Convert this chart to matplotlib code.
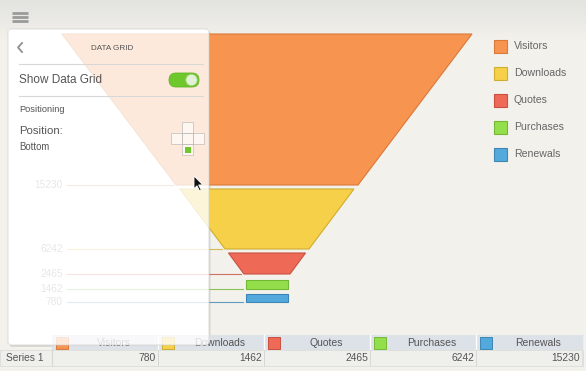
import numpy as np
import matplotlib.pyplot as plt
from matplotlib.patches import Rectangle, FancyBboxPatch, Polygon, Circle

plt.rcParams['font.family'] = ['Liberation Sans', 'DejaVu Sans']

categories = ['Visitors', 'Downloads', 'Quotes', 'Purchases', 'Renewals']
values = [780, 1462, 2465, 6242, 15230]
series_name = 'Series 1'
colors = ['#f7944f', '#f5d048', '#ee6a57', '#93df4b', '#53a9dc']
edges = ['#d9793a', '#cfae30', '#c9503f', '#73b935', '#3e86b3']

# funnel layout in pixels: top y, bottom y, top half width, bottom half width
cx = 267
seg_y = [(34, 185), (189, 249), (253, 274), (280, 289), (294, 302)]
seg_w = [(205, 91), (87, 42), (38.5, 23), (21, 21), (21, 21)]
tick_vals = sorted(values, reverse=True)

fig = plt.figure(figsize=(5.86, 3.71), dpi=100)
fig.patch.set_facecolor('#f2f1ec')
ax = fig.add_axes([0, 0, 1, 1])
ax.set_xlim(0, 586)
ax.set_ylim(371, 0)
ax.axis('off')

# soft grey band at the top
grad = np.linspace(0, 1, 60).reshape(-1, 1)
ax.imshow(grad, extent=[0, 586, 40, 0], cmap=plt.matplotlib.colors.LinearSegmentedColormap.from_list(
    'bg', ['#e3e3df', '#f2f1ec']), aspect='auto', zorder=0)

# hamburger
for yy in (13, 17, 21):
    ax.plot([12, 28], [yy, yy], color='#9a9a98', lw=2, solid_capstyle='butt', zorder=1)

# panel shadow + white base under the panel so the faded chart sits on white
ax.add_patch(FancyBboxPatch((9.5, 31), 201, 316, boxstyle='round,pad=0,rounding_size=3',
                            facecolor='#000000', alpha=0.1, edgecolor='none', zorder=0.4))
ax.add_patch(Rectangle((8, 29), 201, 316, facecolor='#ffffff', edgecolor='none', zorder=0.5))

# funnel
for i, cat in enumerate(categories):
    y0, y1 = seg_y[i]
    w0, w1 = seg_w[i]
    pts = [(cx - w0, y0), (cx + w0, y0), (cx + w1, y1), (cx - w1, y1)]
    ax.add_patch(Polygon(pts, closed=True, facecolor=colors[i], edgecolor=edges[i], lw=0.8, zorder=2))
    ax.plot([67, cx - w1 - 3], [y1, y1], color=edges[i], lw=0.8, alpha=0.8, zorder=2)
    ax.text(63, y1, str(tick_vals[i]), ha='right', va='center', fontsize=7.3, color='#8a8a8a', zorder=2)

# legend
for i, cat in enumerate(categories):
    yc = 46 + 27 * i
    ax.add_patch(Rectangle((494, yc - 6.5), 13, 13, facecolor=colors[i], edgecolor=edges[i], lw=0.8, zorder=2))
    ax.text(514, yc, cat, ha='left', va='center', fontsize=7.6, color='#666666', zorder=2)

# data grid
col_x = [53 + 106 * i for i in range(len(categories) + 1)]
ax.add_patch(Rectangle((52, 335), 531, 15, facecolor='#dde1e8', edgecolor='none', zorder=1))
ax.add_patch(Rectangle((0, 350), 583, 16, facecolor='#efefec', edgecolor='#dcdcd8', lw=0.6, zorder=1))
ax.plot([52, 52], [350, 366], color='#d6d6d2', lw=0.8, zorder=1)
ax.text(6, 358, series_name, ha='left', va='center', fontsize=7.4, color='#555555', zorder=2)
for i, cat in enumerate(categories):
    x0 = col_x[i]
    ax.plot([x0 + 105, x0 + 105], [335, 366], color='#ffffff' if i < 4 else '#dde1e8', lw=1.0, zorder=1)
    ax.add_patch(Rectangle((x0 + 3, 336.5), 12, 12, facecolor=colors[i], edgecolor=edges[i], lw=0.7, zorder=2))
    ax.text(x0 + 61, 343, cat, ha='center', va='center', fontsize=7.5, color='#555555', zorder=2)
    ax.text(x0 + 103, 358, str(values[i]), ha='right', va='center', fontsize=7.4, color='#555555', zorder=2)
    if i < 4:
        ax.plot([x0 + 105, x0 + 105], [350, 366], color='#d6d6d2', lw=0.8, zorder=1)

# settings panel (translucent over the chart)
ax.add_patch(FancyBboxPatch((8, 29), 201, 316, boxstyle='round,pad=0,rounding_size=3',
                            facecolor='#ffffff', alpha=0.8, edgecolor='#cfcfcc', lw=0.6, zorder=5))

ax.plot([22, 18, 22], [43, 47.5, 52], color='#8f8f8f', lw=1.3, zorder=6)
ax.text(112, 48, 'DATA GRID', ha='center', va='center', fontsize=5.9, color='#555555', zorder=6)
ax.plot([19, 203], [64, 64], color='#d8d8d8', lw=0.8, zorder=6)
ax.text(19, 80, 'Show Data Grid', ha='left', va='center', fontsize=8.5, color='#555555', zorder=6)
ax.add_patch(FancyBboxPatch((169, 73), 30, 14, boxstyle='round,pad=0,rounding_size=7',
                            facecolor='#6ec72c', edgecolor='#62b526', lw=0.6, zorder=6))
ax.add_patch(Circle((191.5, 80), 5.8, facecolor='#e3f2d6', edgecolor='#8fcf5d', lw=0.6, zorder=7))
ax.plot([19, 203], [96, 96], color='#d8d8d8', lw=0.8, zorder=6)
ax.text(19, 109, 'Positioning', ha='left', va='center', fontsize=6.7, color='#555555', zorder=6)
ax.text(19, 131, 'Position:', ha='left', va='center', fontsize=8.2, color='#555555', zorder=6)
ax.text(19, 147, 'Bottom', ha='left', va='center', fontsize=6.9, color='#555555', zorder=6)

for (px, py) in [(182, 122), (171, 133), (182, 133), (193, 133), (182, 144)]:
    ax.add_patch(Rectangle((px, py), 11, 11, facecolor='#ffffff', alpha=0.6, edgecolor='#a8a8a8', lw=0.6, zorder=6))
ax.add_patch(Rectangle((184.5, 146.5), 6.5, 6.5, facecolor='#6ec72c', edgecolor='none', zorder=7))

# mouse pointer
cur = np.array([(0, 0), (0, 15), (3.5, 11.5), (6.5, 17.5), (8.5, 16.5), (5.5, 10.5), (10.5, 10.5)])
ax.add_patch(Polygon(cur * 0.85 + [194, 176], closed=True, facecolor='#111111', edgecolor='#ffffff', lw=0.6, zorder=8))

fig.savefig('out.png', dpi=100, facecolor=fig.get_facecolor())
